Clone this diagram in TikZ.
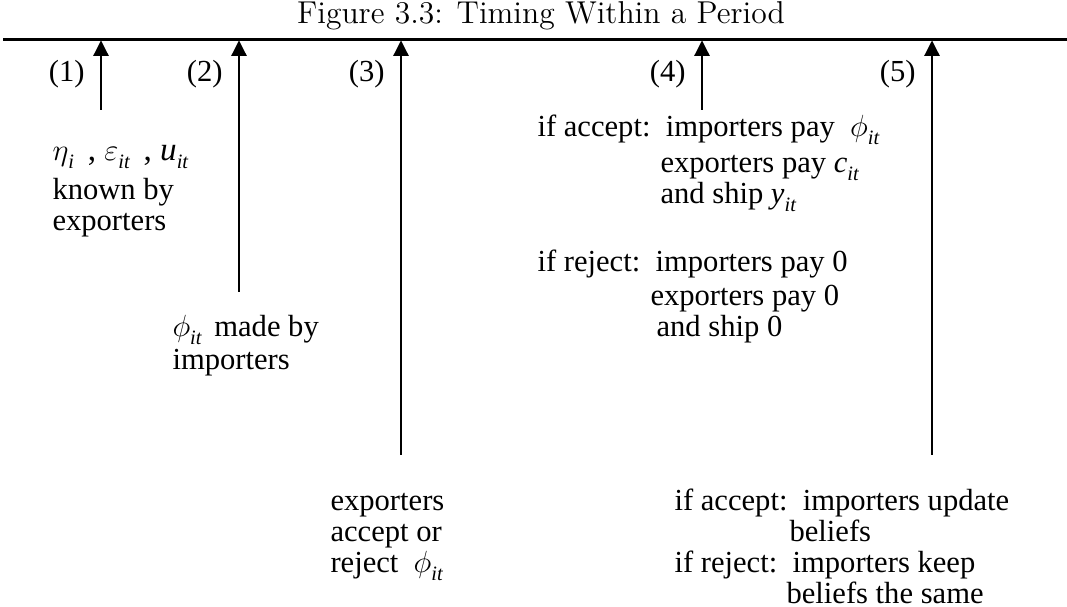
\documentclass[tikz,border=0pt]{standalone}
\usepackage{fontspec}
\setmainfont{Latin Modern Roman}
\newfontfamily\tnr{Liberation Serif}
\usetikzlibrary{arrows.meta}
\newcommand{\sbs}[1]{\raisebox{-0.5ex}{\fontsize{8}{8}\selectfont\itshape #1}}
\begin{document}
\begin{tikzpicture}[x=0.3922pt,y=-0.3922pt,
  txt/.style={anchor=base west,inner sep=0pt,font=\tnr\fontsize{12}{14}\selectfont},
  lbl/.style={anchor=east,inner sep=0pt,font=\tnr\fontsize{12}{14}\selectfont},
  tl/.style={-{Triangle[length=6pt,width=6pt]},line width=0.45pt}]
\useasboundingbox (0,0) rectangle (1067,607);
\node[anchor=base,inner sep=0pt,font=\fontsize{12.4}{14}\selectfont] (title) at (541,24) {Figure 3.3: Timing Within a Period};
\coordinate (L) at (3,39.5);
\coordinate (R) at (1067,39.5);
\draw[line width=0.8pt] (L) -- (R);
% arrows
\foreach \n/\x/\b in {1/101/110, 2/239/292, 3/401/455, 4/702/110, 5/932/455}{
  \coordinate (b\n) at (\x,\b);
  \coordinate (t\n) at (\x,40.5);
  \draw[tl] (b\n) -- (t\n);
  \node[lbl] (n\n) at (\x-16,74) {(\n)};
}
% block 1
\node[txt,font=\tnr\fontsize{13}{14}\selectfont] (a1) at (52,161) {$\eta$\sbs{i}\, , $\varepsilon$\sbs{it}\, , \textit{u}\sbs{it}};
\node[txt] (a2) at (52,200) {known by};
\node[txt] (a3) at (52,231) {exporters};
% block 2
\node[txt] (c1) at (172,337) {$\phi$\sbs{it}\ \,made by};
\node[txt] (c2) at (172,370) {importers};
% block 3
\node[txt] (d1) at (330,511) {exporters};
\node[txt] (d2) at (330,542) {accept or};
\node[txt] (d3) at (330,573) {reject \ $\phi$\sbs{it}};
% block 4
\node[txt] (e1) at (537,137) {if accept:\ \ importers pay \ $\phi$\sbs{it}};
\node[txt] (e2) at (660,173) {exporters pay \textit{c}\sbs{it}};
\node[txt] (e3) at (660,204) {and ship \textit{y}\sbs{it}};
\node[txt] (e4) at (537,272) {if reject:\ \ importers pay 0};
\node[txt] (e5) at (650,306) {exporters pay 0};
\node[txt] (e6) at (656,337) {and ship 0};
% block 5
\node[txt] (f1) at (674,511) {if accept:\ \ importers update};
\node[txt] (f2) at (789,542) {beliefs};
\node[txt] (f3) at (674,573) {if reject:\ \ importers keep};
\node[txt] (f4) at (786,604) {beliefs the same};
\end{tikzpicture}
\end{document}
